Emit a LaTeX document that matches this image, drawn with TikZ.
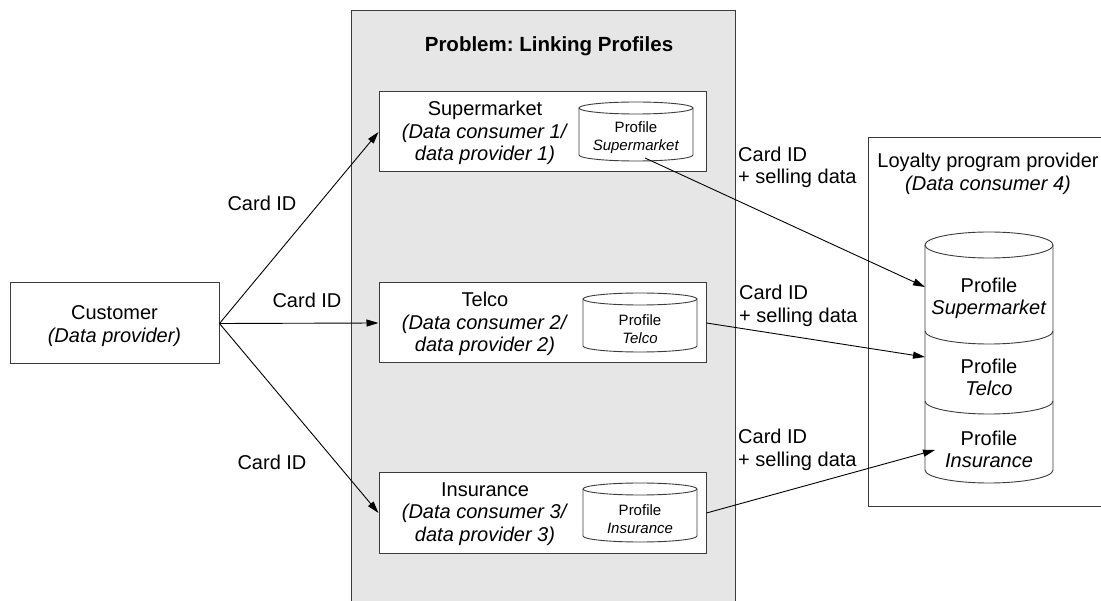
\documentclass[tikz,border=0pt]{standalone}
\usepackage{fontspec}
\setmainfont{Liberation Sans}
\frenchspacing
\usetikzlibrary{arrows.meta}
\definecolor{panelgray}{HTML}{E6E6E6}
\definecolor{edgegray}{HTML}{3C3C3C}
\tikzset{
  txt/.style={font=\fontsize{20}{22.5}\selectfont, align=center, inner sep=0pt},
  smalltxt/.style={font=\fontsize{15}{18}\selectfont, align=center, inner sep=0pt},
  titletxt/.style={font=\fontsize{20.5}{24}\selectfont\bfseries, inner sep=0pt},
  sidetxt/.style={font=\fontsize{20}{22.5}\selectfont, align=left, inner sep=0pt, anchor=west},
  boxst/.style={draw=edgegray, fill=white, line width=1pt, inner sep=0pt},
  panelst/.style={draw=edgegray, fill=panelgray, line width=1pt, inner sep=0pt},
  arr/.style={-{Triangle[length=12pt,width=7pt]}, line width=0.9pt, black},
  cylline/.style={draw=edgegray, line width=0.9pt},
  minicyl/.pic={
    \path[cylline, fill=white] (-57pt,0) -- (-57pt,-47pt)
      arc[start angle=180, end angle=360, x radius=57pt, y radius=6pt]
      -- (57pt,0)
      arc[start angle=0, end angle=180, x radius=57pt, y radius=6pt] -- cycle;
    \path[cylline] (-57pt,0)
      arc[start angle=180, end angle=360, x radius=57pt, y radius=6pt];
  }
}
\begin{document}
\begin{tikzpicture}[x=1pt, y=1pt]
\useasboundingbox (0,0) rectangle (1101,-601);
\clip (0,0) rectangle (1101,-601);
\fill[white] (0,0) rectangle (1101,-601);

% central panel and its heading
\node[panelst, minimum width=384pt, minimum height=640pt] (panel) at (543,-331) {};
\node[titletxt] (title) at (549,-46) {Problem: Linking Profiles};

% customer
\node[boxst, minimum width=209pt, minimum height=81pt] (cust) at (114.5,-323.5) {};
\node[txt] (custlbl) at (114.5,-326) {Customer\\\textit{(Data provider)}};

% the three companies, each with its own profile store
\node[boxst, minimum width=327pt, minimum height=80pt] (sup) at (542.5,-132) {};
\node[txt] (suplbl) at (485,-133) {Supermarket\\\textit{(Data consumer 1/}\\\textit{data provider 1)}};
\pic at (636,-108) {minicyl};
\node[smalltxt] (supdb) at (636,-138) {Profile\\\textit{Supermarket}};
\coordinate (supout) at (645,-158);

\node[boxst, minimum width=327pt, minimum height=80pt] (tel) at (542.5,-323) {};
\node[txt] (tellbl) at (485,-324) {Telco\\\textit{(Data consumer 2/}\\\textit{data provider 2)}};
\pic at (640,-299) {minicyl};
\node[smalltxt] (teldb) at (640,-329) {Profile\\\textit{Telco}};

\node[boxst, minimum width=327pt, minimum height=80pt] (ins) at (542.5,-513) {};
\node[txt] (inslbl) at (485,-514) {Insurance\\\textit{(Data consumer 3/}\\\textit{data provider 3)}};
\pic at (640,-489) {minicyl};
\node[smalltxt] (insdb) at (640,-519) {Profile\\\textit{Insurance}};

% loyalty program provider
\node[boxst, minimum width=242pt, minimum height=369pt] (loyal) at (989,-322.5) {};
\node[txt] (loyallbl) at (988,-174) {Loyalty program provider\\\textit{(Data consumer 4)}};

% stacked profile store of the loyalty program provider
\path[cylline, fill=white] (925,-245) -- (925,-470)
  arc[start angle=180, end angle=360, x radius=64pt, y radius=13pt]
  -- (1053,-245)
  arc[start angle=0, end angle=180, x radius=64pt, y radius=13pt] -- cycle;
\path[cylline] (925,-245) arc[start angle=180, end angle=360, x radius=64pt, y radius=13pt];
\path[cylline] (925,-331) arc[start angle=180, end angle=360, x radius=64pt, y radius=13pt];
\path[cylline] (925,-401) arc[start angle=180, end angle=360, x radius=64pt, y radius=13pt];
\node[txt] (bigsup) at (989,-298.5) {Profile\\\textit{Supermarket}};
\node[txt] (bigtel) at (989,-377.5) {Profile\\\textit{Telco}};
\node[txt] (bigins) at (989,-449.5) {Profile\\\textit{Insurance}};
\coordinate (inSup) at (925,-287);
\coordinate (inTel) at (925,-357);
\coordinate (inIns) at (935,-450);

% card IDs handed from the customer
\draw[arr] (cust.east) -- (sup.west);
\draw[arr] (cust.east) -- (tel.west);
\draw[arr] (cust.east) -- (ins.west);
\node[txt] (c1) at (262,-203) {Card ID};
\node[txt] (c2) at (307,-300) {Card ID};
\node[txt] (c3) at (272,-462) {Card ID};

% card IDs and selling data passed on
\draw[arr] (supout) -- (inSup);
\draw[arr] (tel.east) -- (inTel);
\draw[arr] (ins.east) -- (inIns);
\node[sidetxt] (s1) at (738,-167.5) {Card ID\\+ selling data};
\node[sidetxt] (s2) at (739,-306) {Card ID\\+ selling data};
\node[sidetxt] (s3) at (738,-450) {Card ID\\+ selling data};
\end{tikzpicture}
\end{document}
